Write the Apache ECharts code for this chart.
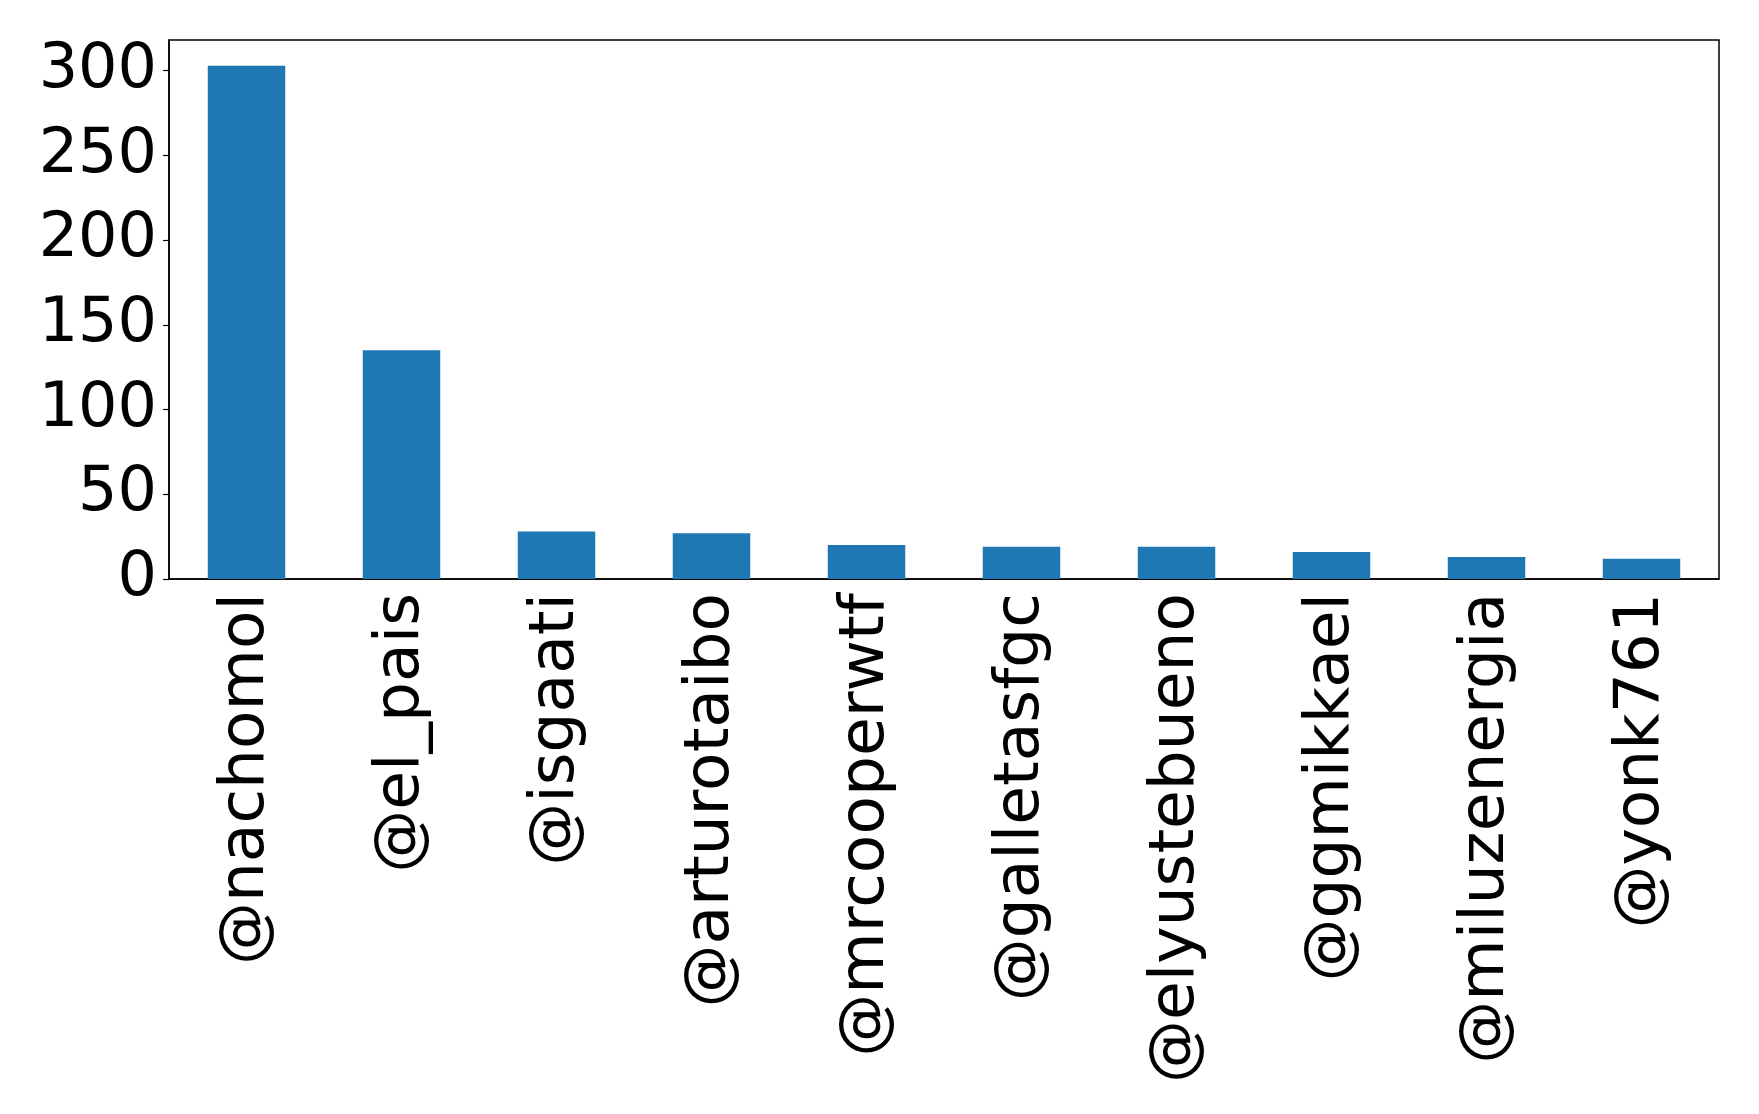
<!DOCTYPE html>
<html>
<head>
<meta charset="utf-8">
<script src="https://cdn.jsdelivr.net/npm/echarts@6/dist/echarts.min.js"></script>
<style>
    html, body { margin: 0; padding: 0; background: #fff; }
    #chart { width: 1759px; height: 1114px; }
</style>
</head>
<body>
<div id="chart"></div>
<script>
// 用户名 + 次数
var users = ['@nachomol', '@el_pais', '@isgaati', '@arturotaibo', '@mrcooperwtf',
    '@galletasfgc', '@elyustebueno', '@ggmikkael', '@miluzenergia', '@yonk761'];
var counts = [303, 135, 28, 27, 20, 19, 19, 16, 13, 12];
var yTicks = [0, 50, 100, 150, 200, 250, 300];

var chart = echarts.init(document.getElementById('chart'));
var font = 'DejaVu Sans';

var option = {
    animation: false,
    grid: {
        left: 169,
        right: 40,
        top: 40,
        bottom: 535,
        show: true,
        borderColor: '#000',
        borderWidth: 1.5,
        backgroundColor: '#fff'
    },
    xAxis: {
        type: 'category',
        data: users,
        axisLine: { lineStyle: { color: '#000', width: 1.5 } },
        axisTick: { alignWithLabel: true, length: 6, lineStyle: { color: '#000', width: 1.2 } },
        axisLabel: {
            rotate: 90,
            margin: 14,
            color: '#000',
            fontFamily: font,
            fontSize: 63,
            interval: 0
        }
    },
    yAxis: {
        type: 'value',
        min: 0,
        max: Math.max.apply(null, counts) * 1.05,
        interval: 50,
        splitLine: { show: false },
        axisLine: { show: true, lineStyle: { color: '#000', width: 1.5 } },
        axisTick: { show: true, length: 6, lineStyle: { color: '#000', width: 1.2 } },
        axisLabel: {
            margin: 12,
            color: '#000',
            fontFamily: font,
            fontSize: 62,
            showMaxLabel: false,
            formatter: function (v) {
                return yTicks.indexOf(v) >= 0 ? String(v) : '';
            }
        }
    },
    series: [{
        type: 'bar',
        data: counts,
        barWidth: '50%',
        itemStyle: { color: '#1f77b4' }
    }]
};
chart.setOption(option);
</script>
</body>
</html>
